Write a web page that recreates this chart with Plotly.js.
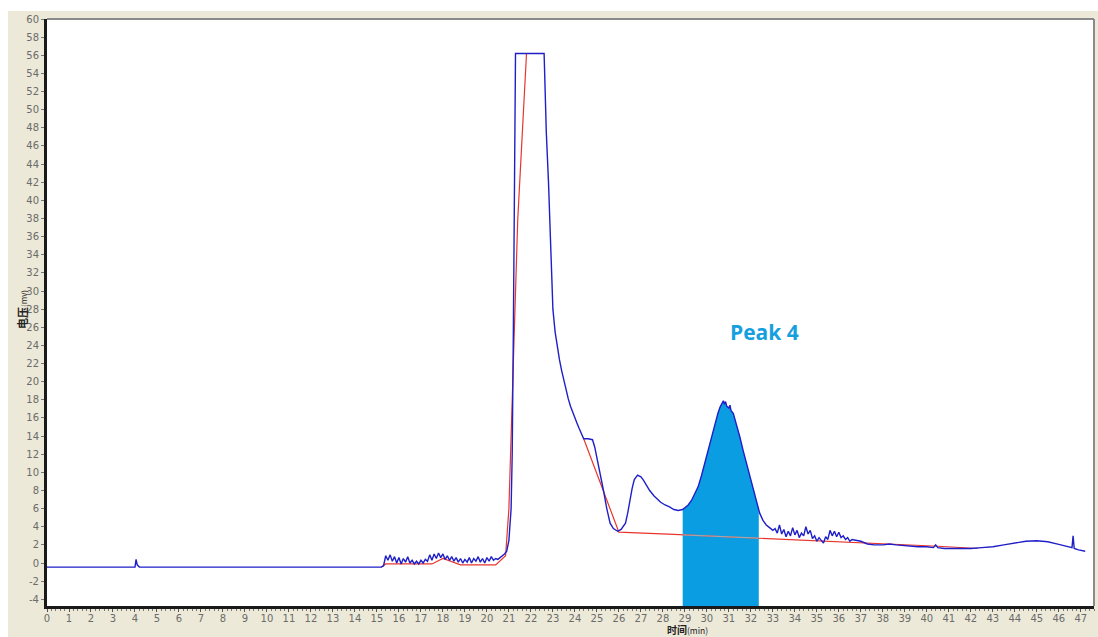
<!DOCTYPE html>
<html>
<head>
<meta charset="utf-8">
<script src="https://cdn.plot.ly/plotly-3.0.1.min.js"></script>
<style>
  html, body { margin: 0; padding: 0; background: #ffffff; overflow: hidden; }
  #chart { position: absolute; left: 8px; top: 11px; width: 1090px; height: 626px; }
</style>
</head>
<body>
<div id="chart"></div>
<script>
// ---- Signal (blue) : time (min) ----
const signalTime = [
  0, 4.0, 4.05, 4.1, 4.2, 15.2,
  15.3, 15.4, 15.5, 15.6, 15.7, 15.8, 15.9, 16.0, 16.1, 16.2, 16.3, 16.4, 16.5, 16.6, 16.7, 16.8, 16.9,
  17.0, 17.1, 17.2, 17.3, 17.4, 17.5, 17.6, 17.7, 17.8, 17.9, 18.0, 18.1, 18.2, 18.3, 18.4, 18.5, 18.6,
  18.7, 18.8, 18.9, 19.0, 19.1, 19.2, 19.3, 19.4, 19.5, 19.6, 19.7, 19.8, 19.9, 20.0, 20.1, 20.2, 20.3,
  20.4, 20.5, 20.6, 20.7, 20.8, 20.9, 21.0, 21.1, 21.15, 21.2, 21.23, 21.26, 21.3,
  22.6, 22.65, 22.7, 22.8, 22.86, 22.9, 22.95, 23.0, 23.1, 23.2, 23.3, 23.4, 23.5, 23.6, 23.7, 23.8,
  23.9, 24.0, 24.1, 24.2, 24.3, 24.4, 24.6, 24.8, 24.9, 25.0, 25.15, 25.3, 25.45, 25.6, 25.75, 25.95,
  26.1, 26.3, 26.4, 26.5, 26.6, 26.7, 26.85, 27.0, 27.1, 27.25, 27.4, 27.6, 27.9, 28.1, 28.3, 28.5,
  28.7, 28.9, 29.0, 29.15, 29.3, 29.45, 29.6, 29.75, 29.9, 30.05, 30.2, 30.35, 30.5, 30.6, 30.7, 30.75,
  30.8, 30.85, 30.9, 31.0, 31.05, 31.1, 31.2, 31.35, 31.5, 31.65, 31.8, 31.95, 32.1, 32.25, 32.4, 32.55,
  32.7, 32.85, 33.0, 33.1, 33.2, 33.3, 33.4, 33.5, 33.6, 33.7, 33.8, 33.9, 34.0, 34.1, 34.2, 34.3, 34.4,
  34.5, 34.6, 34.7, 34.8, 34.9, 35.0, 35.1, 35.2, 35.3, 35.4, 35.5, 35.6, 35.7, 35.8, 35.9, 36.0, 36.1,
  36.2, 36.3, 36.4, 36.5, 36.6, 36.8, 37.0, 37.3, 37.6, 38.0, 38.3, 38.6, 39.0, 39.3, 39.6, 40.0, 40.3,
  40.4, 40.5, 40.8, 41.2, 41.6, 42.0, 42.5, 43.0, 43.5, 44.0, 44.5, 45.0, 45.5, 46.0, 46.4, 46.6, 46.65,
  46.7, 46.9, 47.2
];
// ---- Signal (blue) : voltage (mV) ----
const signalMv = [
  -0.45, -0.45, 0.4, -0.2, -0.45, -0.45,
  -0.3, 0.8, 0.3, 0.9, 0.2, 0.7, 0.0, 0.6, -0.1, 0.5, 0.1, 0.7, 0.0, 0.3, -0.1, 0.2, -0.1,
  0.3, 0.0, 0.4, 0.2, 0.9, 0.3, 1.0, 0.5, 1.1, 0.6, 1.0, 0.4, 0.8, 0.3, 0.7, 0.2, 0.6,
  0.1, 0.5, 0.0, 0.4, 0.1, 0.6, 0.0, 0.5, 0.2, 0.7, 0.1, 0.5, 0.0, 0.6, 0.2, 0.7, 0.3,
  0.5, 0.4, 0.6, 0.7, 1.0, 1.3, 2.5, 6.0, 12.0, 25.0, 38.0, 48.0, 56.2,
  56.2, 52.0, 47.5, 42.0, 38.0, 33.5, 30.5, 28.0, 25.5, 23.8, 22.4, 21.2, 20.1, 19.1, 18.1, 17.3,
  16.6, 16.0, 15.4, 14.8, 14.2, 13.7, 13.7, 13.6, 12.8, 11.7, 9.8, 8.0, 6.0, 4.4, 3.8, 3.5,
  3.7, 4.4, 5.5, 6.9, 8.2, 9.2, 9.7, 9.5, 9.2, 8.6, 8.0, 7.4, 6.7, 6.4, 6.2, 5.9,
  5.8, 5.9, 6.1, 6.4, 6.9, 7.6, 8.4, 9.6, 11.0, 12.5, 13.9, 15.3, 16.5, 17.2, 17.6, 17.9,
  17.5, 17.8, 17.3, 17.1, 17.4, 16.8, 16.5, 15.3, 13.9, 12.4, 11.0, 9.7, 8.4, 7.0, 5.5, 4.7,
  4.2, 3.9, 3.6, 3.8, 3.3, 4.2, 3.2, 3.7, 2.9, 3.5, 3.0, 3.9, 3.1, 3.6, 2.8, 3.3, 3.0,
  4.0, 3.2, 3.6, 2.7, 3.0, 2.4, 2.8, 2.5, 2.2, 2.9, 2.6, 3.6, 3.0, 3.5, 2.9, 3.4, 2.8,
  3.0, 2.6, 2.8, 2.4, 2.6, 2.5, 2.4, 2.1, 2.0, 2.0, 2.1, 2.0, 1.9, 1.9, 1.8, 1.8, 1.7,
  2.0, 1.7, 1.6, 1.6, 1.6, 1.6, 1.7, 1.8, 2.0, 2.2, 2.4, 2.45, 2.35, 2.05, 1.8, 1.7, 3.0,
  1.6, 1.45, 1.3
];

// ---- Baseline (red) ----
const baselineTime = [
  15.2, 15.4, 17.5, 18.0, 18.8, 20.4, 20.85, 21.0, 21.1, 21.4, 21.8,
  null,
  24.4, 26.0, 28.5, 32.3, 35.0, 37.0, 39.0, 40.5, 42.3
];
const baselineMv = [
  -0.45, -0.1, -0.1, 0.5, -0.2, -0.2, 0.8, 6.0, 14.0, 37.8, 56.2,
  null,
  13.7, 3.4, 3.15, 2.75, 2.5, 2.3, 2.05, 1.85, 1.6
];

// ---- Peak 4 integration window ----
const peakLabel = "Peak 4";
const peakStart = 28.9;
const peakEnd = 32.36;

const xTicks = Array.from({length: 48}, (_, i) => i);
const yTicks = Array.from({length: 33}, (_, i) => -4 + 2 * i);
const xRange = [0, 47.6];
const yRange = [-4.74, 60.0];

function interp(xs, ys, x) {
  for (let i = 0; i < xs.length - 1; i++) {
    if (xs[i] !== null && xs[i + 1] !== null && xs[i] <= x && x <= xs[i + 1]) {
      const t = (x - xs[i]) / (xs[i + 1] - xs[i]);
      return ys[i] + t * (ys[i + 1] - ys[i]);
    }
  }
  return null;
}

// Fill polygon under the signal between peakStart and peakEnd, down to the axis floor
const fillX = [peakStart], fillY = [interp(signalTime, signalMv, peakStart)];
signalTime.forEach((t, i) => { if (t > peakStart && t < peakEnd) { fillX.push(t); fillY.push(signalMv[i]); } });
fillX.push(peakEnd, peakEnd, peakStart, peakStart);
fillY.push(interp(signalTime, signalMv, peakEnd), yRange[0], yRange[0], fillY[0]);

// Baseline piece inside the peak window (drawn grey over the fill)
const innerBaseX = [peakStart], innerBaseY = [interp(baselineTime, baselineMv, peakStart)];
baselineTime.forEach((t, i) => { if (t !== null && t > peakStart && t < peakEnd) { innerBaseX.push(t); innerBaseY.push(baselineMv[i]); } });
innerBaseX.push(peakEnd); innerBaseY.push(interp(baselineTime, baselineMv, peakEnd));

const traces = [
  { x: fillX, y: fillY, type: 'scatter', mode: 'lines', fill: 'toself',
    fillcolor: '#0a9de2', line: { width: 0, color: '#0a9de2' }, hoverinfo: 'skip', showlegend: false },
  { x: baselineTime, y: baselineMv, type: 'scatter', mode: 'lines',
    line: { color: '#e8352c', width: 1.2 }, connectgaps: false, showlegend: false },
  { x: signalTime, y: signalMv, type: 'scatter', mode: 'lines',
    line: { color: '#1f1fc8', width: 1.4 }, showlegend: false },
  { x: innerBaseX, y: innerBaseY, type: 'scatter', mode: 'lines',
    line: { color: '#a9a2a6', width: 1.4 }, showlegend: false, hoverinfo: 'skip' }
];

const tickFont = { family: 'DejaVu Sans, Liberation Sans, sans-serif', size: 10, color: '#6b6b6b' };

const layout = {
  width: 1090, height: 626,
  margin: { l: 39, r: 4, t: 8, b: 31 },
  paper_bgcolor: '#ece9d8',
  plot_bgcolor: '#ffffff',
  showlegend: false,
  xaxis: {
    range: xRange, tickvals: xTicks, ticktext: xTicks.map(String),
    showgrid: false, zeroline: false, showline: true, linecolor: '#1a1a1a', linewidth: 3,
    ticks: 'outside', ticklen: 3, tickcolor: '#555', tickwidth: 1, tickfont: tickFont,
    ticklabelstandoff: -2,
    minor: { dtick: 0.2, ticks: 'outside', ticklen: 2, tickcolor: '#777', showgrid: false }
  },
  yaxis: {
    range: yRange, tickvals: yTicks, ticktext: yTicks.map(String),
    showgrid: false, zeroline: false, showline: true, linecolor: '#1a1a1a', linewidth: 3,
    ticks: 'outside', ticklen: 3, tickcolor: '#777', tickwidth: 1, tickfont: tickFont
  },
  shapes: [
    { type: 'line', xref: 'paper', yref: 'paper', x0: 0, x1: 1, y0: 1, y1: 1, line: { color: '#8a8a8a', width: 2 } },
    { type: 'line', xref: 'paper', yref: 'paper', x0: 1, x1: 1, y0: 0, y1: 1, line: { color: '#8a8a8a', width: 2 } }
  ],
  annotations: [
    { text: '<b>' + peakLabel + '</b>', x: 32.6, y: 25.5, xref: 'x', yref: 'y', showarrow: false,
      font: { family: 'Open Sans, sans-serif', size: 21, color: '#169fdf' } },
    { text: '<b>时间</b><span style="font-size:8.5px">(min)</span>', x: 29.1, xref: 'x', y: -0.0528, yref: 'paper',
      yanchor: 'bottom', showarrow: false, borderpad: 0, yshift: -1,
      font: { family: 'Noto Sans CJK SC, sans-serif', size: 10, color: '#222' } },
    { text: '<b>电压</b><span style="font-size:8px">(mv)</span>', x: -0.0245, xref: 'paper', y: 0.505, yref: 'paper',
      xanchor: 'center', yanchor: 'middle', textangle: -90, showarrow: false, borderpad: 0,
      font: { family: 'Noto Sans CJK SC, sans-serif', size: 11, color: '#222' } }
  ]
};

Plotly.newPlot('chart', traces, layout, { displayModeBar: false, staticPlot: true });
</script>
</body>
</html>
